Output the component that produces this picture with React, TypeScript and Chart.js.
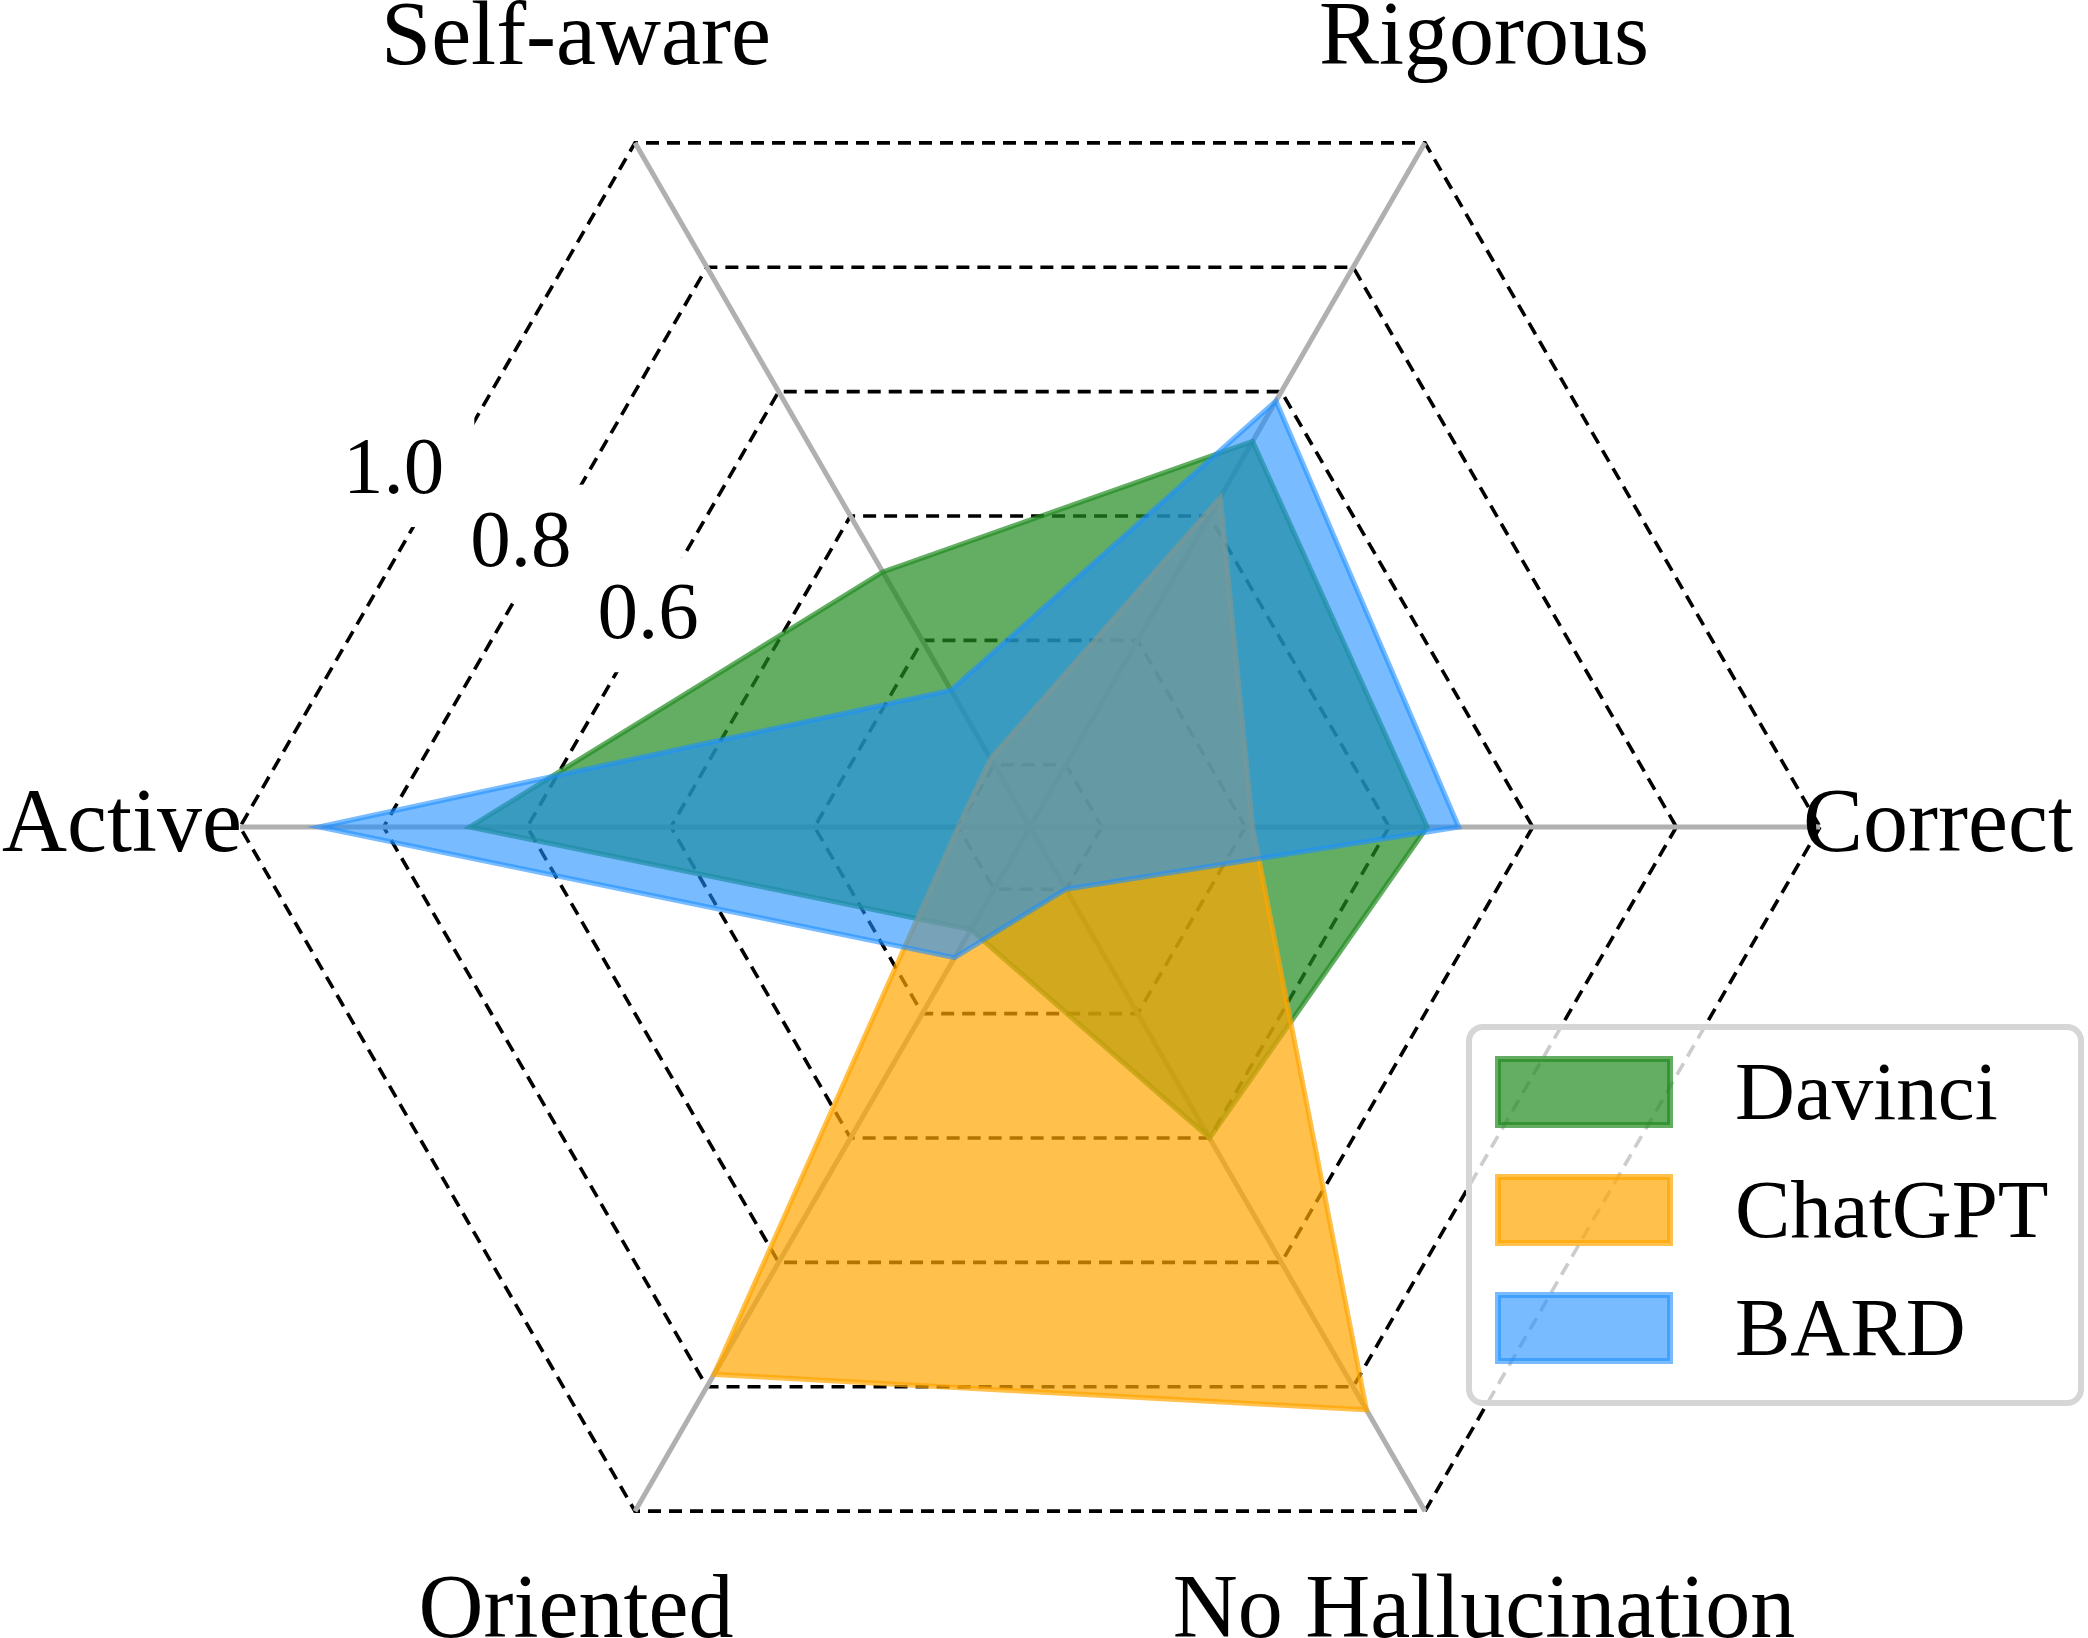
import React, { useEffect, useRef } from 'react';
import { Chart, registerables } from 'chart.js';

Chart.register(...registerables);

// ---- data ----
const CATEGORIES = ['Correct', 'No Hallucination', 'Oriented', 'Active', 'Self-aware', 'Rigorous'];
const SERIES_NAMES = ['Davinci', 'ChatGPT', 'BARD'];
const DAVINCI = [0.553, 0.5, 0.165, 0.78, 0.41, 0.62];
const CHATGPT = [0.31, 0.937, 0.88, 0.1, 0.11, 0.53];
const BARD = [0.597, 0.1, 0.21, 0.99, 0.22, 0.685];
const GRID_VALUES = [0, 0.1, 0.3, 0.5, 0.7, 0.9, 1.1];
const TICK_VALUES = [0.6, 0.8, 1.0];
const TICK_LABELS = ['0.6', '0.8', '1.0'];

// ---- styles ----
const W = 2088;
const H = 1638;
const SERIF = '"Liberation Serif", "Times New Roman", serif';
const FILLS = ['rgba(34,139,34,0.7)', 'rgba(255,165,0,0.7)', 'rgba(30,144,255,0.6)'];

const overlayPlugin = {
  id: 'overlay',
  beforeDatasetsDraw(chart: any) {
    const s = chart.scales.r;
    const ctx = chart.ctx as CanvasRenderingContext2D;
    ctx.save();
    ctx.font = `81px ${SERIF}`;
    ctx.textAlign = 'center';
    ctx.textBaseline = 'middle';
    const ang = (150.3 * Math.PI) / 180;
    TICK_VALUES.forEach((v, i) => {
      const d = s.getDistanceFromCenterForValue(v) * 1.02;
      const x = s.xCenter + Math.cos(ang) * d;
      const y = s.yCenter - Math.sin(ang) * d + 8;
      const w = ctx.measureText(TICK_LABELS[i]).width + 60;
      ctx.fillStyle = '#ffffff';
      ctx.fillRect(x - w / 2, y - 60, w, 115);
      ctx.fillStyle = '#000000';
      ctx.fillText(TICK_LABELS[i], x, y);
    });
    ctx.restore();
  },
  afterDraw(chart: any) {
    const s = chart.scales.r;
    const ctx = chart.ctx as CanvasRenderingContext2D;
    ctx.save();
    // axis labels
    ctx.font = `90px ${SERIF}`;
    ctx.textAlign = 'center';
    ctx.textBaseline = 'middle';
    ctx.fillStyle = '#000000';
    CATEGORIES.forEach((c, i) => {
      const p = s.getPointPosition(i, s.drawingArea + 118);
      ctx.fillText(c, p.x, p.y);
    });
    // legend
    const lx = 1469, ly = 1027, lw = 612, lh = 376;
    ctx.beginPath();
    (ctx as any).roundRect(lx, ly, lw, lh, 14);
    ctx.fillStyle = 'rgba(255,255,255,0.8)';
    ctx.fill();
    ctx.lineWidth = 6;
    ctx.strokeStyle = 'rgb(214,214,214)';
    ctx.stroke();
    const rowY = [1092, 1210, 1328];
    ctx.font = `83px ${SERIF}`;
    ctx.textAlign = 'left';
    chart.data.datasets.forEach((ds: any, i: number) => {
      const cy = rowY[i];
      ctx.fillStyle = ds.backgroundColor;
      ctx.fillRect(1498, cy - 33, 172, 66);
      ctx.lineWidth = 6;
      ctx.strokeStyle = ds.borderColor;
      ctx.strokeRect(1498, cy - 33, 172, 66);
      ctx.fillStyle = '#000000';
      ctx.fillText(ds.label, 1735, cy + 5);
    });
    ctx.restore();
  },
};

export default function App() {
  const ref = useRef<HTMLCanvasElement | null>(null);
  useEffect(() => {
    if (!ref.current) return;
    const seriesValues = [DAVINCI, CHATGPT, BARD];
    const chart = new Chart(ref.current, {
      type: 'radar',
      data: {
        labels: CATEGORIES,
        datasets: SERIES_NAMES.map((name, i) => ({
          label: name,
          data: seriesValues[i],
          backgroundColor: FILLS[i],
          borderColor: FILLS[i],
          borderWidth: 5,
          fill: true,
          pointRadius: 0,
          pointHoverRadius: 0,
          order: 3 - i,
        })),
      },
      options: {
        responsive: false,
        animation: false,
        devicePixelRatio: 1,
        layout: { padding: { left: 240, right: 268, top: 37, bottom: 21 } },
        plugins: { legend: { display: false }, tooltip: { enabled: false } },
        elements: { line: { tension: 0, borderJoinStyle: 'miter' } },
        scales: {
          r: {
            min: 0,
            max: 1.1,
            startAngle: 90,
            afterBuildTicks: (scale: any) => {
              scale.ticks = GRID_VALUES.map((v) => ({ value: v }));
            },
            ticks: { display: false },
            pointLabels: { display: false },
            grid: { color: '#000000', lineWidth: 3.6 },
            border: { dash: [13, 8] },
            angleLines: { color: 'rgb(176,176,176)', lineWidth: 5 },
          },
        },
      } as any,
      plugins: [overlayPlugin],
    });
    return () => chart.destroy();
  }, []);
  return (
    <div style={{ position: 'absolute', left: 0, top: 0, width: W, height: H, background: '#fff' }}>
      <canvas ref={ref} width={W} height={H} style={{ display: 'block', width: W, height: H }} />
    </div>
  );
}
